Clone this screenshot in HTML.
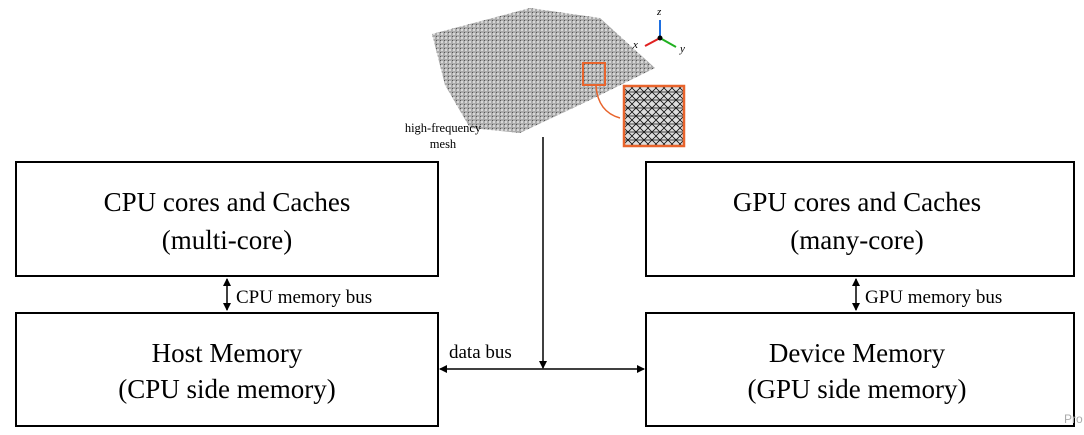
<!DOCTYPE html>
<html><head><style>
body{margin:0;width:1084px;height:430px;background:#fff;overflow:hidden;font-family:"Liberation Serif",serif}
</style></head><body>
<svg width="1084" height="430" xmlns="http://www.w3.org/2000/svg">
<defs>
<marker id="a" markerWidth="8" markerHeight="8" refX="7" refY="4" orient="auto-start-reverse" markerUnits="userSpaceOnUse"><path d="M0,0L8,4L0,8z" fill="#000"/></marker>
<pattern id="m" width="4" height="4" patternUnits="userSpaceOnUse"><rect width="4" height="4" fill="#aaa"/><circle cx="2" cy="2" r="1.1" fill="#ddd"/><rect x="0" y="0" width="1" height="1" fill="#555"/></pattern>
<pattern id="t" width="8" height="8" patternUnits="userSpaceOnUse"><rect width="8" height="8" fill="#ddd"/><path d="M0,8L8,0M0,0L8,8M0,4H8" stroke="#111" stroke-width="0.8"/></pattern>
</defs>
<polygon points="432,34 530,8 600,18 655,68 590,100 520,133 470,128 445,85" fill="url(#m)"/>
<rect x="583" y="63" width="22" height="22" fill="none" stroke="#e8642c" stroke-width="2"/>
<path d="M596,86 Q598,112 620,118" fill="none" stroke="#e8642c" stroke-width="1.5"/>
<rect x="624" y="86" width="60" height="60" fill="url(#t)" stroke="#e8642c" stroke-width="2.5"/>
<g stroke-width="2">
<line x1="660" y1="38" x2="660" y2="20" stroke="#1e6fe0"/>
<line x1="660" y1="38" x2="645" y2="46" stroke="#e02020"/>
<line x1="660" y1="38" x2="676" y2="47" stroke="#20b020"/>
</g>
<circle cx="660" cy="38" r="2.5"/>
<text x="657" y="15" font-size="11" font-style="italic">z</text>
<text x="633" y="48" font-size="11" font-style="italic">x</text>
<text x="680" y="52" font-size="11" font-style="italic">y</text>
<text x="443" y="132" font-size="12.5" text-anchor="middle">high-frequency</text>
<text x="443" y="148" font-size="12.5" text-anchor="middle">mesh</text>
<g fill="none" stroke="#000" stroke-width="2">
<rect x="16" y="162" width="422" height="114"/>
<rect x="16" y="313" width="422" height="113"/>
<rect x="646" y="162" width="428" height="114"/>
<rect x="646" y="313" width="428" height="113"/>
</g>
<g stroke="#000" stroke-width="1.5">
<line x1="227" y1="279" x2="227" y2="310" marker-start="url(#a)" marker-end="url(#a)"/>
<line x1="856" y1="279" x2="856" y2="310" marker-start="url(#a)" marker-end="url(#a)"/>
<line x1="440" y1="369" x2="644" y2="369" marker-start="url(#a)" marker-end="url(#a)"/>
<line x1="543" y1="137" x2="543" y2="368" marker-end="url(#a)"/>
</g>
<g font-size="27" text-anchor="middle">
<text x="227" y="211">CPU cores and Caches</text>
<text x="227" y="249">(multi-core)</text>
<text x="227" y="362">Host Memory</text>
<text x="227" y="398">(CPU side memory)</text>
<text x="857" y="211">GPU cores and Caches</text>
<text x="857" y="249">(many-core)</text>
<text x="857" y="362">Device Memory</text>
<text x="857" y="398">(GPU side memory)</text>
</g>
<g font-size="19">
<text x="236" y="303">CPU memory bus</text>
<text x="865" y="303">GPU memory bus</text>
<text x="449" y="358">data bus</text>
</g>
<text x="1064" y="423" font-size="12" fill="#aaa" font-family="Liberation Sans,sans-serif">Pro</text>
</svg>
</body></html>
